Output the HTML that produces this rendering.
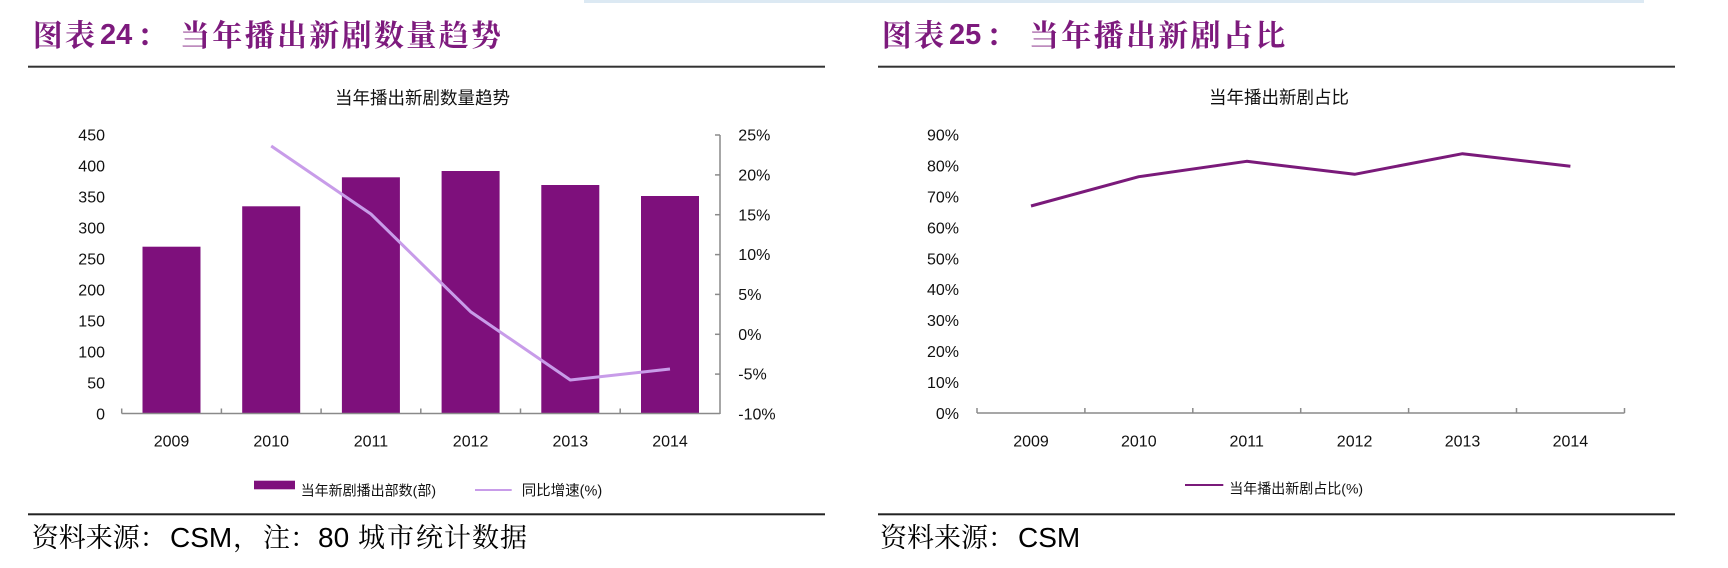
<!DOCTYPE html>
<html>
<head>
<meta charset="utf-8">
<style>
html,body{margin:0;padding:0;background:#fff;}
body{width:1728px;height:568px;overflow:hidden;}
svg{display:block;}
.ax{font-family:"Liberation Sans",Arial,sans-serif;font-size:16px;fill:#111;}
.cj{font-family:"Liberation Sans","Noto Sans CJK SC",sans-serif;fill:#111;}
.tt{font-family:"Liberation Sans","Noto Serif CJK SC",serif;font-weight:700;fill:#7d1a7d;}
.src{font-family:"Liberation Sans","Noto Serif CJK SC",serif;fill:#000;}
</style>
</head>
<body>
<svg width="1728" height="568" viewBox="0 0 1728 568" xmlns="http://www.w3.org/2000/svg">
<rect x="0" y="0" width="1728" height="568" fill="#fff"/>
<!-- top light-blue band -->
<rect x="584" y="0" width="1060" height="3" fill="#dce9f3"/>

<!-- ===== LEFT PANEL ===== -->
<text class="tt" font-size="30" y="46"><tspan x="32.7">图</tspan><tspan x="65">表</tspan></text>
<text font-family="'Liberation Sans',Arial,sans-serif" font-weight="700" font-size="29" fill="#7d1a7d" x="100" y="44">24</text>
<text class="tt" font-size="30" y="46"><tspan x="137">：</tspan></text>
<text class="tt" font-size="30" y="46" x="180 212.3 244.6 277 309.3 341.6 374 406.3 438.6 471">当年播出新剧数量趋势</text>
<rect x="28" y="65.7" width="797" height="2" fill="#333"/>

<text class="cj" font-size="17.5" x="335" y="104">当年播出新剧数量趋势</text>

<!-- left y labels -->
<g class="ax" text-anchor="end">
<text x="105" y="140.7">450</text>
<text x="105" y="171.7">400</text>
<text x="105" y="202.7">350</text>
<text x="105" y="233.7">300</text>
<text x="105" y="264.7">250</text>
<text x="105" y="295.7">200</text>
<text x="105" y="326.7">150</text>
<text x="105" y="357.7">100</text>
<text x="105" y="388.7">50</text>
<text x="105" y="419.7">0</text>
</g>
<!-- right y labels -->
<g class="ax">
<text x="738.3" y="140.7">25%</text>
<text x="738.3" y="180.5">20%</text>
<text x="738.3" y="220.4">15%</text>
<text x="738.3" y="260.2">10%</text>
<text x="738.3" y="300">5%</text>
<text x="738.3" y="339.9">0%</text>
<text x="738.3" y="379.7">-5%</text>
<text x="738.3" y="419.6">-10%</text>
</g>

<!-- bars -->
<g fill="#7e107c">
<rect x="142.5" y="246.7" width="58" height="166.8"/>
<rect x="242.2" y="206.3" width="58" height="207.2"/>
<rect x="341.9" y="177.3" width="58" height="236.2"/>
<rect x="441.6" y="171" width="58" height="242.5"/>
<rect x="541.3" y="185" width="58" height="228.5"/>
<rect x="641" y="196" width="58" height="217.5"/>
</g>

<!-- axes -->
<g stroke="#8a8a8a" stroke-width="1.5" fill="none">
<line x1="121.7" y1="413.5" x2="720" y2="413.5"/>
<line x1="121.7" y1="408.5" x2="121.7" y2="413.5"/>
<line x1="221.4" y1="408.5" x2="221.4" y2="413.5"/>
<line x1="321.1" y1="408.5" x2="321.1" y2="413.5"/>
<line x1="420.8" y1="408.5" x2="420.8" y2="413.5"/>
<line x1="520.5" y1="408.5" x2="520.5" y2="413.5"/>
<line x1="620.2" y1="408.5" x2="620.2" y2="413.5"/>
<line x1="720" y1="135" x2="720" y2="414"/>
<line x1="715" y1="135" x2="720" y2="135"/>
<line x1="715" y1="174.9" x2="720" y2="174.9"/>
<line x1="715" y1="214.7" x2="720" y2="214.7"/>
<line x1="715" y1="254.6" x2="720" y2="254.6"/>
<line x1="715" y1="294.4" x2="720" y2="294.4"/>
<line x1="715" y1="334.3" x2="720" y2="334.3"/>
<line x1="715" y1="374.1" x2="720" y2="374.1"/>
</g>

<!-- growth line -->
<polyline points="271.2,146 370.9,214 470.6,311.7 570.3,380 670,369" fill="none" stroke="#c89ce9" stroke-width="3" stroke-linejoin="round"/>

<!-- x labels -->
<g class="ax" text-anchor="middle">
<text x="171.5" y="446.5">2009</text>
<text x="271.2" y="446.5">2010</text>
<text x="370.9" y="446.5">2011</text>
<text x="470.6" y="446.5">2012</text>
<text x="570.3" y="446.5">2013</text>
<text x="670" y="446.5">2014</text>
</g>

<!-- legend -->
<rect x="254" y="480.7" width="41" height="8.6" fill="#7e107c"/>
<text class="cj" font-size="14" x="300.7" y="495.3">当年新剧播出部数(部)</text>
<line x1="475" y1="490" x2="511.7" y2="490" stroke="#c89ce9" stroke-width="2"/>
<text class="cj" font-size="14.5" x="521.7" y="495.3">同比增速(%)</text>

<rect x="28" y="513.3" width="797" height="2" fill="#222"/>
<text class="src" font-size="27" y="547"><tspan x="31.7 58.7 85.7 112.7 139.7">资料来源：</tspan><tspan x="170" font-size="28">CSM</tspan><tspan x="233">，</tspan><tspan x="263 290">注：</tspan><tspan x="318" font-size="28">80</tspan><tspan x="358 387 416 444 472 500">城市统计数据</tspan></text>

<!-- ===== RIGHT PANEL ===== -->
<text class="tt" font-size="30" y="46"><tspan x="881.7">图</tspan><tspan x="914">表</tspan></text>
<text font-family="'Liberation Sans',Arial,sans-serif" font-weight="700" font-size="29" fill="#7d1a7d" x="949" y="44">25</text>
<text class="tt" font-size="30" y="46"><tspan x="986">：</tspan></text>
<text class="tt" font-size="30" y="46" x="1029 1061.3 1093.6 1126 1158.3 1190.6 1223 1255.3">当年播出新剧占比</text>
<rect x="878" y="65.7" width="797" height="2" fill="#333"/>

<text class="cj" font-size="17.5" x="1209" y="103.5">当年播出新剧占比</text>

<g class="ax" text-anchor="end">
<text x="959" y="140.7">90%</text>
<text x="959" y="171.6">80%</text>
<text x="959" y="202.5">70%</text>
<text x="959" y="233.4">60%</text>
<text x="959" y="264.3">50%</text>
<text x="959" y="295.2">40%</text>
<text x="959" y="326.1">30%</text>
<text x="959" y="357">20%</text>
<text x="959" y="387.9">10%</text>
<text x="959" y="418.8">0%</text>
</g>

<g stroke="#8a8a8a" stroke-width="1.5" fill="none">
<line x1="977" y1="413" x2="1624.5" y2="413"/>
<line x1="977" y1="408" x2="977" y2="413"/>
<line x1="1084.9" y1="408" x2="1084.9" y2="413"/>
<line x1="1192.8" y1="408" x2="1192.8" y2="413"/>
<line x1="1300.7" y1="408" x2="1300.7" y2="413"/>
<line x1="1408.6" y1="408" x2="1408.6" y2="413"/>
<line x1="1516.5" y1="408" x2="1516.5" y2="413"/>
<line x1="1624.5" y1="408" x2="1624.5" y2="413"/>
</g>

<polyline points="1031,206 1138.8,176.7 1246.7,161.3 1354.6,174.3 1462.5,153.7 1570.4,166.3" fill="none" stroke="#7a1a7a" stroke-width="3" stroke-linejoin="round"/>

<g class="ax" text-anchor="middle">
<text x="1031" y="446.5">2009</text>
<text x="1138.8" y="446.5">2010</text>
<text x="1246.7" y="446.5">2011</text>
<text x="1354.6" y="446.5">2012</text>
<text x="1462.5" y="446.5">2013</text>
<text x="1570.4" y="446.5">2014</text>
</g>

<line x1="1185" y1="485" x2="1223.3" y2="485" stroke="#7a1a7a" stroke-width="2"/>
<text class="cj" font-size="14" x="1229.3" y="493.6">当年播出新剧占比(%)</text>

<rect x="878" y="513.3" width="797" height="2" fill="#222"/>
<text class="src" font-size="27" y="547"><tspan x="880 907 934 961 988">资料来源：</tspan><tspan x="1018" font-size="28">CSM</tspan></text>
</svg>
</body>
</html>
